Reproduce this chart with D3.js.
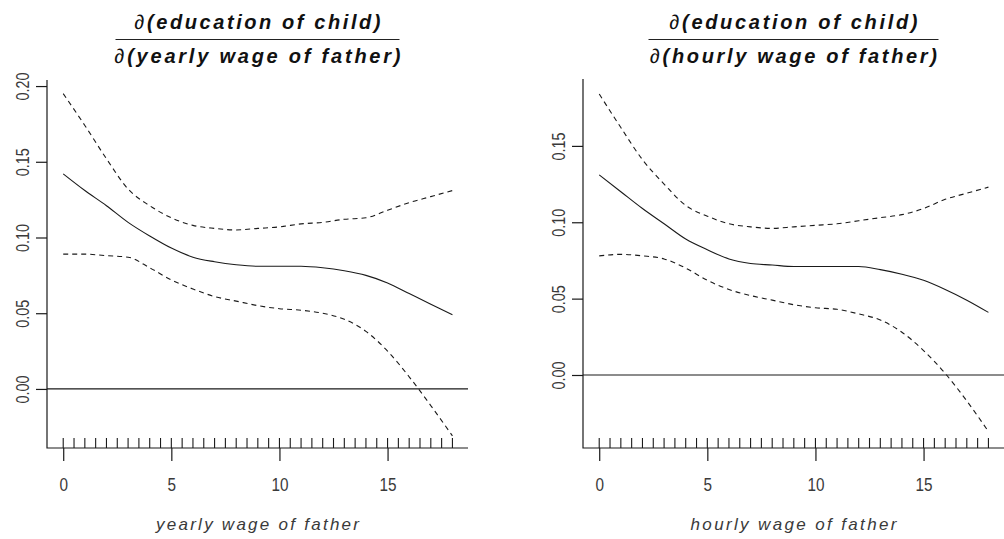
<!DOCTYPE html>
<html>
<head>
<meta charset="utf-8">
<script src="https://cdn.jsdelivr.net/npm/d3@7/dist/d3.min.js"></script>
<style>
  html, body { margin: 0; padding: 0; background: #fff; }
  svg { display: block; font-family: "Liberation Sans", Arial, sans-serif; }
</style>
</head>
<body>
<svg id="chart" width="1004" height="539"></svg>
<script>
// ---------------- data ----------------
const xGrid = [0,1,2,3,4,5,6,7,8,9,10,11,12,13,14,15,16,17,18];

const yearlyEstimate = [0.142,0.131,0.121,0.110,0.101,0.093,0.087,0.084,0.082,0.081,0.081,0.081,0.080,0.078,0.075,0.070,0.063,0.056,0.049];
const yearlyUpper    = [0.195,0.174,0.152,0.132,0.121,0.113,0.108,0.106,0.105,0.106,0.107,0.109,0.110,0.112,0.113,0.118,0.123,0.127,0.131];
const yearlyLower    = [0.089,0.089,0.088,0.087,0.080,0.072,0.066,0.061,0.058,0.055,0.053,0.052,0.050,0.046,0.038,0.025,0.008,-0.011,-0.031];

const hourlyEstimate = [0.131,0.120,0.109,0.099,0.089,0.082,0.076,0.073,0.072,0.071,0.071,0.071,0.071,0.069,0.066,0.062,0.056,0.049,0.041];
const hourlyUpper    = [0.184,0.162,0.141,0.125,0.111,0.104,0.099,0.097,0.096,0.097,0.098,0.099,0.101,0.103,0.105,0.109,0.115,0.119,0.123];
const hourlyLower    = [0.078,0.079,0.078,0.076,0.070,0.062,0.056,0.052,0.049,0.046,0.044,0.043,0.040,0.036,0.028,0.016,0.001,-0.017,-0.037];

const rugValues = [0,0.5,1,1.5,2,2.5,3,3.5,4,4.5,5,5.5,6,6.5,7,7.5,8,8.5,9,9.5,10,10.5,11,11.5,12,12.5,13,13.5,14,14.5,15,15.5,16,16.5,17,17.5,18];

const xTicks = [0,5,10,15];
const yTicksYearly = [0,0.05,0.10,0.15,0.20];
const yTicksHourly = [0,0.05,0.10,0.15];

const numeratorText = "education of child";
const denomYearly = "yearly wage of father";
const denomHourly = "hourly wage of father";
const xLabelYearly = "yearly wage of father";
const xLabelHourly = "hourly wage of father";

// ---------------- layout ----------------
const panels = [
  { left: 47, right: 468, top: 80, bottom: 448,
    xDomain: [-0.75, 18.72], yDomain: [-0.039, 0.204],
    est: yearlyEstimate, up: yearlyUpper, lo: yearlyLower, yTicks: yTicksYearly,
    denom: denomYearly, xLabel: xLabelYearly,
    numW: 246, denW: 286, fracW: 284, xLabW: 203 },
  { left: 583, right: 1004, top: 79, bottom: 448,
    xDomain: [-0.75, 18.72], yDomain: [-0.0478, 0.1938],
    est: hourlyEstimate, up: hourlyUpper, lo: hourlyLower, yTicks: yTicksHourly,
    denom: denomHourly, xLabel: xLabelHourly,
    numW: 248, denW: 287, fracW: 290, xLabW: 206 }
];

const svg = d3.select("#chart");
const ink = "#1a1a1a";
const textInk = "#3a3a3a";

function condense(sel, factor) {
  sel.each(function() {
    const len = this.getComputedTextLength();
    d3.select(this).attr("textLength", len * factor).attr("lengthAdjust", "spacingAndGlyphs");
  });
}

panels.forEach(p => {
  const x = d3.scaleLinear().domain(p.xDomain).range([p.left, p.right]);
  const y = d3.scaleLinear().domain(p.yDomain).range([p.bottom, p.top]);
  const g = svg.append("g");

  // L-shaped box
  g.append("path")
    .attr("d", `M${p.left},${p.top}V${p.bottom}H${p.right}`)
    .attr("fill", "none").attr("stroke", ink).attr("stroke-width", 1.2);

  // y axis
  const yAxis = d3.axisLeft(y).tickValues(p.yTicks).tickSize(11).tickFormat("");
  const ya = g.append("g").attr("transform", `translate(${p.left},0)`).call(yAxis);
  ya.select(".domain").remove();
  ya.selectAll(".tick line").attr("stroke", ink).attr("stroke-width", 1.2);
  ya.selectAll(".tick").append("text")
    .attr("transform", "translate(-24,0) rotate(-90)")
    .attr("text-anchor", "middle")
    .attr("dominant-baseline", "central")
    .attr("fill", textInk)
    .style("font-size", "18px")
    .text(d => d3.format(".2f")(d))
    .call(condense, 0.8);

  // x axis
  const xAxis = d3.axisBottom(x).tickValues(xTicks).tickSize(13).tickFormat("");
  const xa = g.append("g").attr("transform", `translate(0,${p.bottom})`).call(xAxis);
  xa.select(".domain").remove();
  xa.selectAll(".tick line").attr("stroke", ink).attr("stroke-width", 1.2);
  xa.selectAll(".tick").append("text")
    .attr("y", 43)
    .attr("text-anchor", "middle")
    .attr("fill", textInk)
    .style("font-size", "18px")
    .text(d => d3.format("d")(d))
    .call(condense, 0.85);

  // rug
  g.append("g").selectAll("line").data(rugValues).join("line")
    .attr("x1", d => x(d)).attr("x2", d => x(d))
    .attr("y1", p.bottom).attr("y2", p.bottom - 10)
    .attr("stroke", ink).attr("stroke-width", 1.1);

  // zero reference line
  g.append("line")
    .attr("x1", p.left).attr("x2", p.right)
    .attr("y1", y(0)).attr("y2", y(0))
    .attr("stroke", ink).attr("stroke-width", 1.2);

  const line = d3.line().x((d, i) => x(xGrid[i])).y(d => y(d)).curve(d3.curveMonotoneX);

  g.append("path").attr("d", line(p.est))
    .attr("fill", "none").attr("stroke", ink).attr("stroke-width", 1.1);
  [p.up, p.lo].forEach(s => {
    g.append("path").attr("d", line(s))
      .attr("fill", "none").attr("stroke", ink).attr("stroke-width", 1.1)
      .attr("stroke-dasharray", "5,4");
  });

  // title (fraction)
  const cx = (p.left + p.right) / 2;
  const num = g.append("text")
    .attr("x", cx).attr("y", 29).attr("text-anchor", "middle")
    .attr("fill", "#111").style("font-size", "20px")
    .attr("textLength", p.numW).attr("lengthAdjust", "spacing");
  num.append("tspan").style("font-style", "italic").text("\u2202");
  num.append("tspan").style("font-style", "italic").style("font-weight", "bold").text("(" + numeratorText + ")");

  g.append("line")
    .attr("x1", cx - p.fracW / 2).attr("x2", cx + p.fracW / 2)
    .attr("y1", 39.5).attr("y2", 39.5)
    .attr("stroke", "#222").attr("stroke-width", 1.2);

  const den = g.append("text")
    .attr("x", cx).attr("y", 63).attr("text-anchor", "middle")
    .attr("fill", "#111").style("font-size", "20px")
    .attr("textLength", p.denW).attr("lengthAdjust", "spacing");
  den.append("tspan").style("font-style", "italic").text("\u2202");
  den.append("tspan").style("font-style", "italic").style("font-weight", "bold").text("(" + p.denom + ")");

  // x axis label
  g.append("text")
    .attr("x", cx).attr("y", 530).attr("text-anchor", "middle")
    .attr("fill", textInk).style("font-size", "17px").style("font-style", "italic")
    .attr("textLength", p.xLabW).attr("lengthAdjust", "spacing")
    .text(p.xLabel);
});
</script>
</body>
</html>
